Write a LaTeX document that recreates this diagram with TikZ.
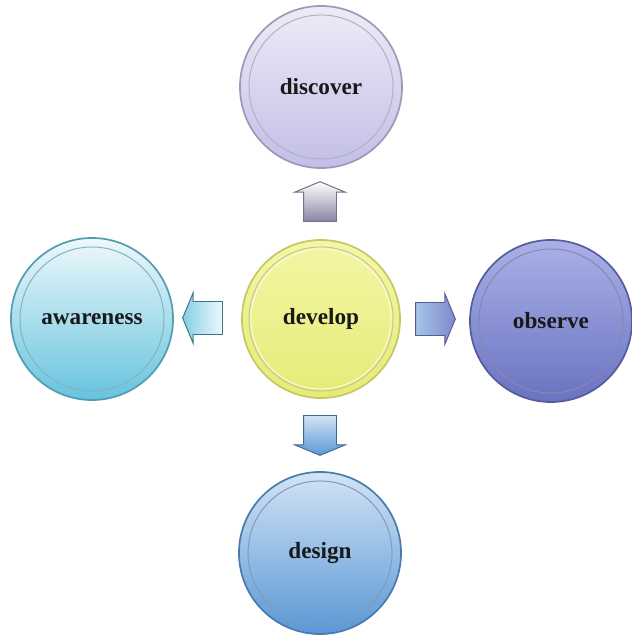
\documentclass[tikz,border=0pt]{standalone}
\usepackage{fontspec}
\setmainfont{Liberation Serif}
\usetikzlibrary{shapes.arrows,positioning}
\definecolor{discovertop}{HTML}{EEEBF7}
\definecolor{discoverbot}{HTML}{C2BEE6}
\definecolor{developtop}{HTML}{F4F6A6}
\definecolor{developbot}{HTML}{E6EB76}
\definecolor{awaretop}{HTML}{EEF8FB}
\definecolor{awarebot}{HTML}{66C3DE}
\definecolor{observetop}{HTML}{A9B1E6}
\definecolor{observebot}{HTML}{6A72C2}
\definecolor{designtop}{HTML}{D2E3F5}
\definecolor{designbot}{HTML}{5A98D6}
\tikzset{
  stage/.style={circle,minimum size=4.05cm,inner sep=0pt,line width=1.2pt,
    font=\fontsize{16.5}{20}\selectfont\bfseries,text=black!90},
  ring/.style={line width=0.7pt},
  pointer/.style={single arrow,shape border rotate=#1,minimum height=0.92cm,
    minimum width=1.25cm,single arrow head extend=0.22cm,
    single arrow tip angle=135,inner sep=0.4cm,line width=0.7pt}
}
\begin{document}
\begin{tikzpicture}[x=0.025cm,y=-0.025cm]
        \useasboundingbox (0,0) rectangle (631,635);
        % draw the five circles
        \node[stage,draw=discoverbot!80!black,top color=discovertop,bottom color=discoverbot] (discover) at (321,87) {discover};
        \node[stage,minimum size=3.95cm,draw=developbot!85!black,top color=developtop,bottom color=developbot] (develop) at (321,319) {develop};
        \node[stage,draw=awarebot!80!black,top color=awaretop,bottom color=awarebot] (awareness) at (92,319) {awareness};
        \node[stage,draw=observebot!80!black,top color=observetop,bottom color=observebot] (observe) at (551,321) {observe};
        \node[stage,draw=designbot!80!black,top color=designtop,bottom color=designbot] (design) at (320,553) {design};
        % draw inner rings
        \foreach \n/\c in {discover/discoverbot,develop/developbot,awareness/awarebot,observe/observebot,design/designbot}
        \draw[ring,\c!75!black!70!white] (\n.center) circle (1.8cm);
        \draw[ring,white!80!developbot] (develop.center) circle (1.75cm);
        % draw arrows
        \node[pointer=90,draw=discoverbot!60!black,top color=white,bottom color=discoverbot!70!black] (toup) at (320,205) {};
        \node[pointer=180,draw=awarebot!60!black,left color=awarebot!80,right color=awaretop] (toleft) at (206,318) {};
        \node[pointer=0,draw=observebot!80!black,left color=designbot!55,right color=observebot!85] (toright) at (432,319) {};
        \node[pointer=270,draw=designbot!70!black,top color=designtop,bottom color=designbot] (todown) at (320,432) {};
\end{tikzpicture}
\end{document}
